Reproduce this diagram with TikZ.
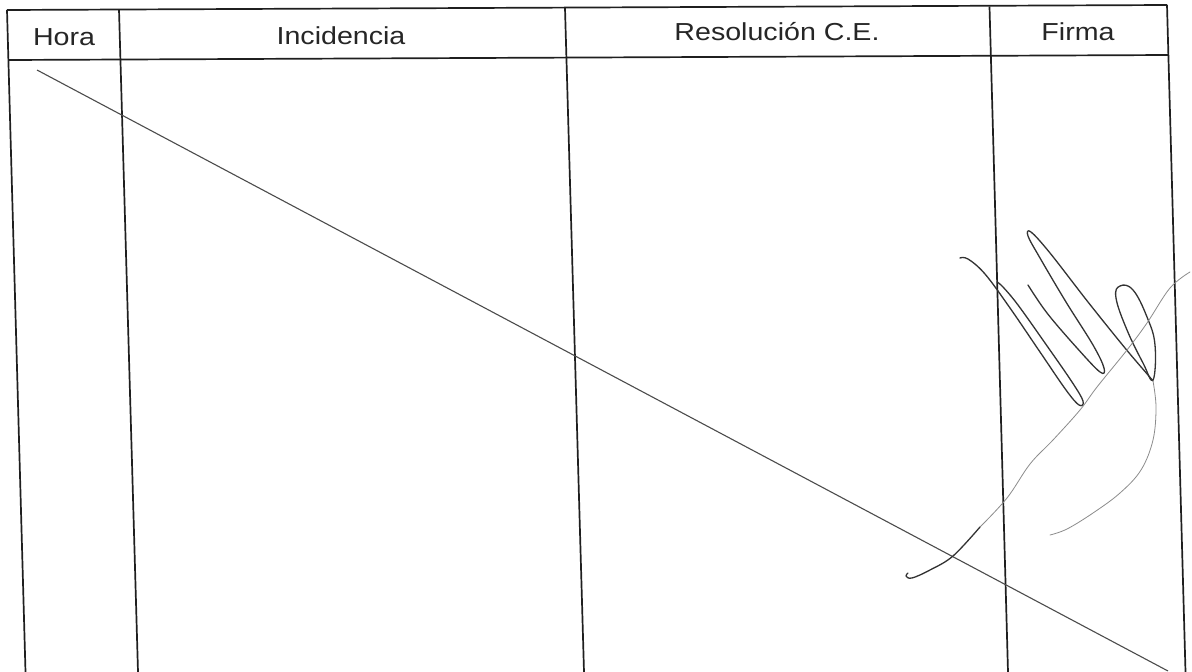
\documentclass[tikz,border=0pt]{standalone}
\usepackage{fontspec}
\setmainfont{Liberation Sans}
\begin{document}
\begin{tikzpicture}[x=1pt,y=-1pt,
  rule/.style={line width=1.7pt,color=black!88},
  head/.style={anchor=base,inner sep=0pt,text=black!85,font=\fontsize{28.6}{30}\selectfont},
  diag/.style={line width=1.1pt,color=black!70},
  ink/.style={line width=1.3pt,color=black!80,line cap=round,line join=round},
  faint/.style={line width=0.8pt,color=black!45,line cap=round,line join=round}]
\useasboundingbox[fill=white] (0,0) rectangle (1192,672);
% table corners
\coordinate (tl) at (7,10);
\coordinate (tr) at (1167,5);
\coordinate (hl) at (8.4,60);
\coordinate (hr) at (1168.5,55);
\coordinate (bl) at (25.5,672);
\coordinate (br) at (1185.5,672);
\coordinate (d1t) at (119,9.5);
\coordinate (d1b) at (138,672);
\coordinate (d2t) at (565,8);
\coordinate (d2b) at (584,672);
\coordinate (d3t) at (989.5,6.5);
\coordinate (d3b) at (1008,672);
\draw[rule] (tl) -- (tr);
\draw[rule] (hl) -- (hr);
\draw[rule] (tl) -- (bl);
\draw[rule] (d1t) -- (d1b);
\draw[rule] (d2t) -- (d2b);
\draw[rule] (d3t) -- (d3b);
\draw[rule] (tr) -- (br);
% header texts
\node[head] (hora) at (64,45) {\scalebox{1}[0.86]{Hora}};
\node[head] (incidencia) at (341,44) {\scalebox{1}[0.86]{Incidencia}};
\node[head] (resolucion) at (777,40) {\scalebox{1}[0.86]{Resolución C.E.}};
\node[head] (firma) at (1078,40) {\scalebox{1}[0.86]{Firma}};
% diagonal strike-through
\coordinate (ds) at (37,70);
\coordinate (de) at (1168,671);
\draw[diag] (ds) -- (de);
% signature
\draw[ink] plot[smooth,tension=0.6] coordinates {(960,258) (968,259) (985,274) (1010,308) (1040,352) (1066,390) (1079,405) (1083,401) (1072,382) (1045,343) (1018,305) (1003,287) (997,282)};
\draw[ink] plot[smooth,tension=0.6] coordinates {(1028,285) (1047,313) (1077,348) (1100,372) (1104,368) (1093,345) (1066,302) (1040,258) (1028,236) (1031,232) (1050,253) (1088,302) (1125,348) (1148,375) (1153,381)};
\draw[ink] plot[smooth cycle,tension=0.7] coordinates {(1120,286) (1133,290) (1147,317) (1155,345) (1153,380) (1143,363) (1127,330) (1116,298)};
\draw[faint] plot[smooth,tension=0.6] coordinates {(1190,272) (1170,288) (1147,323) (1127,350) (1097,387) (1080,410) (1053,440) (1030,464) (1007,498) (980,527)};
\draw[ink] plot[smooth,tension=0.6] coordinates {(980,527) (953,556) (930,570) (912,578) (906,576) (908,573)};
\draw[faint] plot[smooth,tension=0.6] coordinates {(1153,381) (1156,407) (1153,440) (1141,470) (1120,493) (1093,513) (1067,529) (1050,535)};
\end{tikzpicture}
\end{document}
